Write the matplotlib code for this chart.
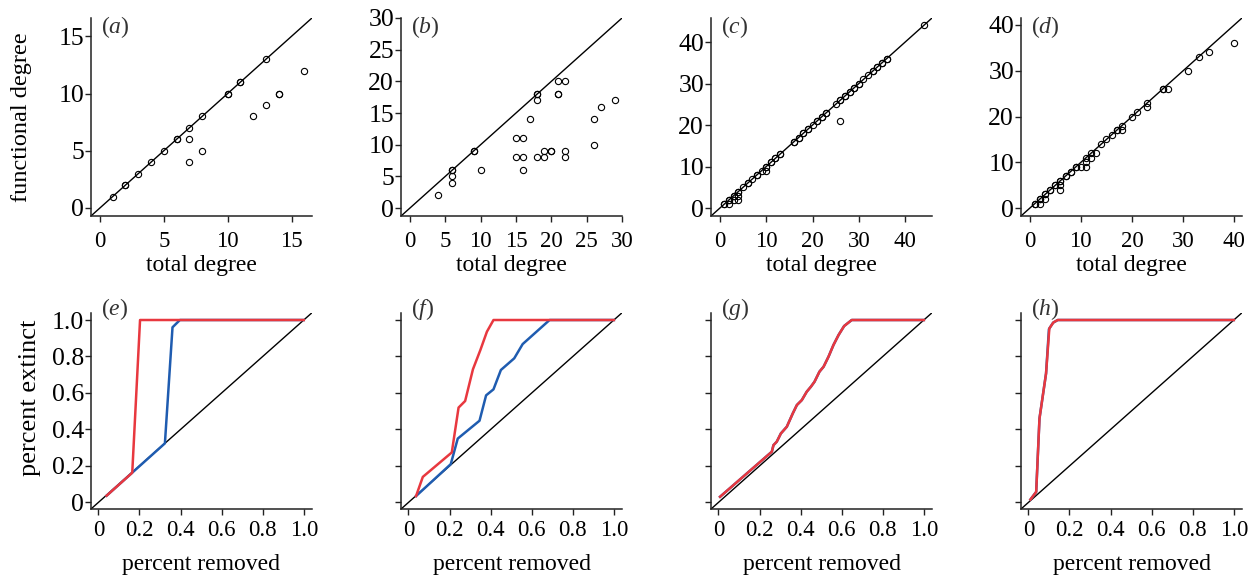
import matplotlib
matplotlib.use('Agg')
import matplotlib.pyplot as plt

plt.rcParams['font.family'] = ['Liberation Serif', 'DejaVu Serif']
plt.rcParams['mathtext.fontset'] = 'custom'
plt.rcParams['mathtext.rm'] = 'Liberation Serif'
plt.rcParams['mathtext.it'] = 'Liberation Serif:italic'

# top row: (total degree, functional degree) per species
a_total = [1, 2, 2, 3, 4, 5, 6, 6, 7, 7, 7, 8, 8, 10, 10, 11, 11, 12, 13, 13, 14, 14, 16]
a_func = [1, 2, 2, 3, 4, 5, 6, 6, 7, 6, 4, 8, 5, 10, 10, 11, 11, 8, 13, 9, 10, 10, 12]

b_total = [4, 6, 6, 6, 6, 9, 9, 10, 15, 16, 15, 16, 16, 17, 18, 18, 18, 18, 19, 19,
           20, 20, 21, 22, 21, 21, 22, 22, 26, 26, 27, 29]
b_func = [2, 6, 6, 5, 4, 9, 9, 6, 11, 11, 8, 8, 6, 14, 18, 18, 17, 8, 8, 9,
          9, 9, 20, 20, 18, 18, 9, 8, 14, 10, 16, 17]

c_total = [1, 1, 2, 2, 2, 3, 3, 3, 4, 4, 4, 4, 5, 6, 6, 7, 8, 8, 9, 10, 10, 10, 11, 11,
           12, 12, 13, 13, 16, 16, 17, 17, 18, 18, 19, 19, 20, 21, 21, 22, 22, 23, 23,
           25, 26, 26, 26, 27, 27, 28, 28, 29, 29, 30, 30, 31, 32, 33, 33, 34, 34,
           35, 35, 36, 36, 44]
c_func = [1, 1, 2, 2, 1, 3, 3, 2, 4, 4, 3, 2, 5, 6, 6, 7, 8, 8, 9, 10, 10, 9, 11, 11,
          12, 12, 13, 13, 16, 16, 17, 17, 18, 18, 19, 19, 20, 21, 21, 22, 22, 23, 23,
          25, 26, 26, 21, 27, 27, 28, 28, 29, 29, 30, 30, 31, 32, 33, 33, 34, 34,
          35, 35, 36, 36, 44]

d_total = [1, 1, 2, 2, 2, 3, 3, 3, 4, 4, 5, 5, 6, 6, 6, 6, 7, 7, 8, 8, 9, 9, 10, 11, 11,
           11, 12, 12, 13, 14, 15, 16, 17, 17, 18, 18, 20, 21, 23, 23, 26, 26, 27, 31,
           33, 35, 40]
d_func = [1, 1, 2, 2, 1, 3, 3, 2, 4, 4, 5, 5, 6, 6, 5, 4, 7, 7, 8, 8, 9, 9, 9, 9, 10,
          11, 11, 12, 12, 14, 15, 16, 17, 17, 18, 17, 20, 21, 23, 22, 26, 26, 26, 30,
          33, 34, 36]

# bottom row: extinction curves (percent removed, percent extinct)
e_red_x = [0.04, 0.165, 0.203, 1.0]
e_red_y = [0.037, 0.163, 1.0, 1.0]
e_blue_x = [0.04, 0.324, 0.361, 0.397, 1.0]
e_blue_y = [0.037, 0.324, 0.96, 1.0, 1.0]

f_red_x = [0.037, 0.07, 0.211, 0.244, 0.276, 0.314, 0.35, 0.382, 0.414, 1.0]
f_red_y = [0.035, 0.14, 0.274, 0.52, 0.556, 0.73, 0.835, 0.936, 1.0, 1.0]
f_blue_x = [0.037, 0.206, 0.24, 0.346, 0.378, 0.414, 0.45, 0.515, 0.556, 0.687, 1.0]
f_blue_y = [0.035, 0.21, 0.35, 0.448, 0.587, 0.62, 0.726, 0.79, 0.868, 1.0, 1.0]

g_red_x = [0.008, 0.26, 0.268, 0.284, 0.304, 0.333, 0.362, 0.382, 0.406, 0.43, 0.45,
           0.468, 0.492, 0.512, 0.536, 0.56, 0.585, 0.612, 0.649, 1.0]
g_red_y = [0.031, 0.278, 0.314, 0.333, 0.378, 0.415, 0.488, 0.534, 0.561, 0.607, 0.634,
           0.662, 0.717, 0.744, 0.799, 0.863, 0.918, 0.967, 1.0, 1.0]
g_blue_x = g_red_x
g_blue_y = g_red_y

h_red_x = [0.01, 0.038, 0.054, 0.086, 0.102, 0.122, 0.143, 1.0]
h_red_y = [0.016, 0.058, 0.46, 0.707, 0.954, 0.987, 1.0, 1.0]
h_blue_x = [0.01, 0.038, 0.054, 0.086, 0.1, 0.12, 0.143, 1.0]
h_blue_y = [0.016, 0.058, 0.46, 0.707, 0.95, 0.985, 1.0, 1.0]

top_data = [(a_total, a_func), (b_total, b_func), (c_total, c_func), (d_total, d_func)]
top_ticks = [[0, 5, 10, 15], [0, 5, 10, 15, 20, 25, 30], [0, 10, 20, 30, 40], [0, 10, 20, 30, 40]]
top_lims = [(-0.7, 16.6), (-1.25, 30.0), (-1.9, 45.8), (-1.7, 41.5)]
top_names = ['a', 'b', 'c', 'd']

bottom_data = [(e_red_x, e_red_y, e_blue_x, e_blue_y), (f_red_x, f_red_y, f_blue_x, f_blue_y),
               (g_red_x, g_red_y, g_blue_x, g_blue_y), (h_red_x, h_red_y, h_blue_x, h_blue_y)]
bottom_ticks = [0, 0.2, 0.4, 0.6, 0.8, 1.0]
bottom_labels = ['0', '0.2', '0.4', '0.6', '0.8', '1.0']
bottom_names = ['e', 'f', 'g', 'h']

red = '#e8383f'
blue = '#1f5cb0'

fig = plt.figure(figsize=(12.58, 5.76), dpi=100)
lefts = [0.0723, 0.3188, 0.5652, 0.8116]
width = 0.1757


def style(ax, xpad):
    for s in ['top', 'right']:
        ax.spines[s].set_visible(False)
    for s in ['left', 'bottom']:
        ax.spines[s].set_linewidth(1.1)
        ax.spines[s].set_color('#222222')
    ax.tick_params(direction='out', length=4, width=1.0, color='#222222')
    ax.tick_params(axis='y', pad=1, labelsize=18.5)
    ax.tick_params(axis='x', pad=xpad, labelsize=16.5)


for i in range(4):
    ax = fig.add_axes([lefts[i], 0.625, width, 0.3438])
    style(ax, 6.5)
    lo, hi = top_lims[i]
    ax.plot([lo, hi], [lo, hi], color='black', lw=1.0, zorder=1)
    x, y = top_data[i]
    ax.plot(x, y, 'o', ms=4.5, mfc='none', mec='black', mew=0.8, zorder=2)
    ax.set_xlim(lo, hi)
    ax.set_ylim(lo, hi)
    ax.set_xticks(top_ticks[i])
    ax.set_yticks(top_ticks[i])
    ax.set_xlabel('total degree', fontsize=17, va='baseline')
    ax.xaxis.set_label_coords(0.5, -0.28)
    if i == 0:
        ax.set_ylabel('functional degree', fontsize=17.5)
        ax.yaxis.set_label_coords(-0.265, 0.5)
    ax.text(0.045, 0.955, '($%s$)' % top_names[i], transform=ax.transAxes,
            fontsize=17, color='#333333', va='center', ha='left')

for i in range(4):
    ax = fig.add_axes([lefts[i], 0.1163, width, 0.3408])
    style(ax, 4)
    lo, hi = -0.036, 1.04
    ax.plot([lo, hi], [lo, hi], color='black', lw=1.0, zorder=1)
    rx, ry, bx, by = bottom_data[i]
    ax.plot(bx, by, color=blue, lw=1.8, zorder=2)
    ax.plot(rx, ry, color=red, lw=1.8, zorder=3)
    ax.set_xlim(lo, hi)
    ax.set_ylim(lo, hi)
    ax.set_xticks(bottom_ticks)
    ax.set_xticklabels(bottom_labels)
    ax.set_yticks(bottom_ticks)
    if i == 0:
        ax.set_yticklabels(bottom_labels)
        ax.set_ylabel('percent extinct', fontsize=19)
        ax.yaxis.set_label_coords(-0.225, 0.565)
    else:
        ax.set_yticklabels([])
    ax.set_xlabel('percent removed', fontsize=17, va='baseline')
    ax.xaxis.set_label_coords(0.5, -0.311)
    ax.text(0.045, 1.02, '($%s$)' % bottom_names[i], transform=ax.transAxes,
            fontsize=17, color='#333333', va='center', ha='left')

plt.savefig('out.png', dpi=100)
